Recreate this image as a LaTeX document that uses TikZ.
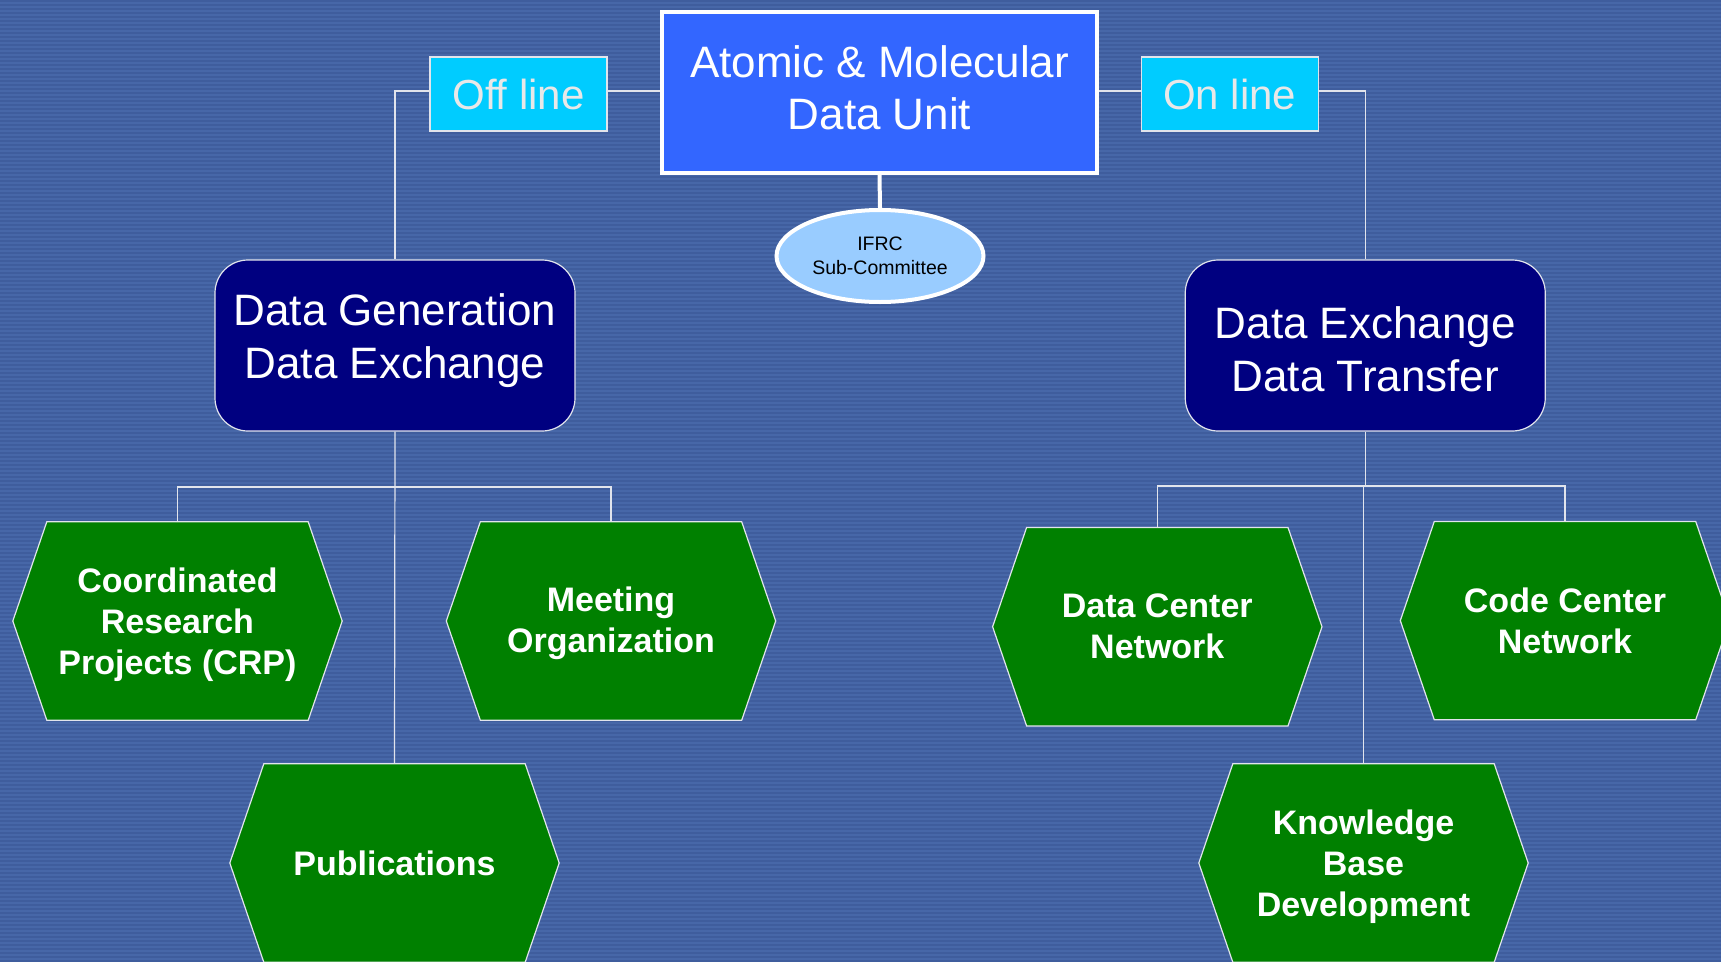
\documentclass[tikz,border=0pt]{standalone}
\usepackage{fontspec}
\setmainfont{Liberation Sans}
\usetikzlibrary{shapes.geometric,calc}
\definecolor{bgblue}{RGB}{71,103,168}
\definecolor{bgstripe}{RGB}{63,93,157}
\definecolor{unitblue}{RGB}{51,102,255}
\definecolor{navybox}{RGB}{0,0,128}
\definecolor{hexgreen}{RGB}{0,128,0}
\definecolor{cyanbox}{RGB}{0,204,255}
\definecolor{ifrcblue}{RGB}{153,204,255}
\definecolor{linegrey}{RGB}{225,228,236}
\definecolor{lighttext}{RGB}{232,232,232}
\pgfdeclarelayer{bglayer}
\pgfdeclarelayer{hexlayer}
\pgfsetlayers{bglayer,hexlayer,main}
\newcommand\depthpad[1]{\rule[-#1]{0pt}{0pt}}
\newcommand\heightpad[1]{\rule{0pt}{#1}}
\tikzset{
  unitbox/.style={draw=white, line width=4pt, fill=unitblue, text=white,
    minimum width=435pt, minimum height=161pt, inner sep=0pt, align=center,
    font=\fontsize{44}{52}\selectfont},
  tagbox/.style={draw=linegrey, line width=1.2pt, fill=cyanbox, text=lighttext,
    minimum width=177pt, minimum height=74pt, inner sep=0pt,
    font=\fontsize{42}{50}\selectfont},
  areabox/.style={draw=linegrey, line width=1.2pt, fill=navybox, text=white,
    rounded corners=33pt, minimum width=360pt, minimum height=171pt, inner sep=0pt,
    align=center, font=\fontsize{44}{53}\selectfont},
  ifrcnode/.style={ellipse, draw=white, line width=4pt, fill=ifrcblue, text=black,
    minimum width=207pt, minimum height=92pt, inner sep=0pt, align=center,
    font=\fontsize{19.5}{24}\selectfont},
  hexnode/.style={minimum width=329pt, minimum height=198pt, inner sep=0pt,
    text=white, align=center, font=\fontsize{34}{41}\selectfont\bfseries},
  hexfill/.style={fill=hexgreen, draw=linegrey, line width=1.2pt},
  conn/.style={draw=linegrey, line width=1.2pt},
  thickconn/.style={draw=white, line width=4pt},
}
\newcommand\hexdraw[1]{%
  \draw[hexfill] ([xshift=34pt]#1.north west) -- ([xshift=-34pt]#1.north east)
    -- (#1.east) -- ([xshift=-34pt]#1.south east) -- ([xshift=34pt]#1.south west)
    -- (#1.west) -- cycle;}
\begin{document}
\begin{tikzpicture}[x=1pt,y=-1pt]
\useasboundingbox (0,0) rectangle (1721,961);
\clip (0,0) rectangle (1721,961);
\begin{pgfonlayer}{bglayer}
  \fill[bgblue] (0,0) rectangle (1721,961);
  \foreach \y in {0,4,...,960} {\fill[bgstripe] (0,\y) rectangle (1721,\y+1.6);}
\end{pgfonlayer}

% top
\node[unitbox] (amdu) at (879.5,92.5) {Atomic \& Molecular\\Data Unit\depthpad{9pt}};
\node[tagbox] (offline) at (518.5,94) {Off line};
\node[tagbox] (online) at (1229.75,94) {On line};
\node[ifrcnode] (ifrc) at (880,256) {IFRC\\Sub-Committee};

% areas
\node[areabox] (dge) at (395,345.5) {Data Generation\\Data Exchange\depthpad{18pt}};
\node[areabox] (dxt) at (1365.25,345.5) {\heightpad{39pt}Data Exchange\\Data Transfer};

% hexagons
\node[hexnode] (crp) at (177.5,621) {\heightpad{31.5pt}Coordinated\\Research\\Projects (CRP)};
\node[hexnode] (mo) at (611,621) {\heightpad{29pt}Meeting\\Organization};
\node[hexnode] (pub) at (394.5,863) {Publications};
\node[hexnode] (dcn) at (1157.3,626.7) {Data Center\\Network};
\node[hexnode] (ccn) at (1565,620.6) {Code Center\\Network};
\node[hexnode] (kbd) at (1363.5,863) {\heightpad{31.5pt}Knowledge\\Base\\Development};
\begin{pgfonlayer}{hexlayer}
  \hexdraw{crp}\hexdraw{mo}\hexdraw{pub}\hexdraw{dcn}\hexdraw{ccn}\hexdraw{kbd}
\end{pgfonlayer}

% connectors
\coordinate (lbar) at (395,487);
\coordinate (rbar) at (1365.25,486);
\draw[conn] (offline.east |- 0,91) -- (amdu.west |- 0,91);
\draw[conn] (online.west |- 0,91) -- (amdu.east |- 0,91);
\draw[conn] (offline.west |- 0,91) -| (dge.north);
\draw[conn] (online.east |- 0,91) -| (dxt.north);
\draw[thickconn] (amdu.south) -- (ifrc.north);
\draw[conn] (dge.south) -- (pub.north);
\draw[conn] (crp.north) |- (lbar) -| (mo.north);
\draw[conn] (dxt.south) -- (rbar);
\draw[conn] (dcn.north) |- (rbar) -| (ccn.north);
\draw[conn] (kbd.north |- rbar) -- (kbd.north);
\end{tikzpicture}
\end{document}
